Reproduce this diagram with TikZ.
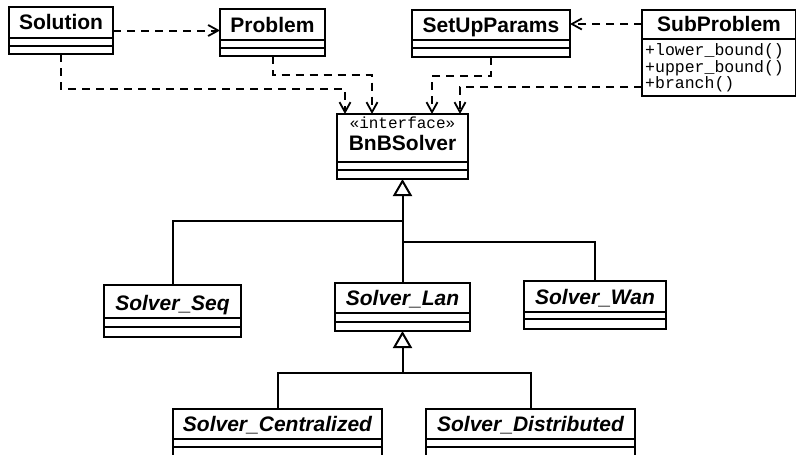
\documentclass[tikz,border=0pt]{standalone}
\usepackage{fontspec}
\setmainfont{Liberation Sans}
\setmonofont{Liberation Mono}
\usetikzlibrary{calc,arrows.meta}
\tikzset{
	clsbox/.style={draw, line width=2pt, inner sep=0pt, outer sep=0pt},
	clsname/.style={anchor=base, inner sep=0pt, font=\fontsize{21}{24}\selectfont\bfseries},
	opname/.style={anchor=base west, inner sep=0pt, font=\fontsize{16.5}{16.5}\selectfont\ttfamily},
	conn/.style={line width=2pt},
	dep/.style={conn, dash pattern=on 8pt off 6pt, -{Straight Barb[length=10pt,width=11pt,line width=1.8pt]}},
	gen/.style={conn, -{Triangle[open,length=17pt,width=19pt,fill=white,line width=2pt]}},
}
% class box: name, (left,top), (right,bottom), header line, second line, title
\def\umlclass#1(#2,#3)(#4,#5)#6#7#8{%
	\node[clsbox, minimum width={(#4-#2)*1pt}, minimum height={(#5-#3)*1pt}] (#1) at ({(#2+#4)/2},{(#3+#5)/2}) {};
	\draw[conn] (#2,#6) -- (#4,#6);
	\draw[conn] (#2,#7) -- (#4,#7);
	\node[clsname] at ({(#2+#4)/2},{#6-8}) {#8};
}

\begin{document}
\begin{tikzpicture}[x=1pt, y=-1pt]
			%%%%% START %%%%%
			\useasboundingbox (0,0) rectangle (796,455);
			
			\umlclass sol(9,7)(113,54){38}{46}{Solution}
			\umlclass prob(220,9)(325,56){40}{48}{Problem}
			\umlclass sup(412,10)(570,57){40}{48}{SetUpParams}
			\umlclass sub(642,10)(796,96){39}{39}{SubProblem}
			\foreach \op/\yy [count=\i] in {+lower\_bound()/55, +upper\_bound()/72, +branch()/88}
				\node[opname] (subop\i) at (645,\yy) {\op};
			
			\umlclass bnb(337,114)(468,179){162}{170}{}
			\node[anchor=base, inner sep=0pt, font=\fontsize{16}{16}\selectfont\ttfamily] (bnbst) at (402.5,128) {«interface»};
			\node[clsname] (bnbname) at (402.5,150) {BnBSolver};
			
			\umlclass seq(104,285)(241,337){318}{327}{\itshape Solver\_Seq}
			\umlclass lan(335,283)(470,331){313}{322}{\itshape Solver\_Lan}
			\umlclass wan(524,281)(666,329){312}{319}{\itshape Solver\_Wan}
			
			\umlclass cen(173,409)(382,470){439}{447}{\itshape Solver\_Centralized}
			\umlclass dis(426,409)(635,470){439}{447}{\itshape Solver\_Distributed}
			
			% dependencies
			\draw[dep] (sol.east) -- (sol.east -| prob.west);
			\coordinate (subout) at ($(sub.north west)+(0,14)$);
			\draw[dep] (subout) -- (subout -| sup.east);
			\draw[dep] (sol.south) -- ++(0,35) -| ($(bnb.north west)+(8,0)$);
			\draw[dep] (prob.south) -- ++(0,19) -| ($(bnb.north west)+(35,0)$);
			\draw[dep] (sup.south) -- ++(0,19) -| ($(bnb.north west)+(95,0)$);
			\draw[dep] ($(sub.south west)+(0,-9)$) -| ($(bnb.north west)+(123,0)$);
			
			% generalizations
			\draw[gen] (lan.north) -- (bnb.south);
			\draw[conn] (seq.north) |- ($(bnb.south)+(0,42)$);
			\draw[conn] (wan.north) |- ($(bnb.south)+(0,63)$);
			\draw[gen] ($(lan.south)+(0,42)$) -- (lan.south);
			\draw[conn] (cen.north) |- ($(lan.south)+(0,42)$) -| (dis.north);
			
			%%%%% END %%%%%
\end{tikzpicture}
\end{document}
